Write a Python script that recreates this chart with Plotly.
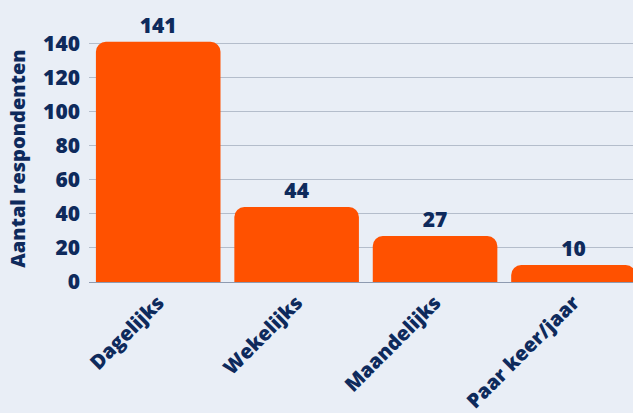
import plotly.graph_objects as go

categories = ["Dagelijks", "Wekelijks", "Maandelijks", "Paar keer/jaar"]
values = [141, 44, 27, 10]
y_ticks = [0, 20, 40, 60, 80, 100, 120, 140]

navy = "#0E2A5C"
bg = "#E9EEF6"
orange = "#FF5100"
font_family = "Open Sans, Lato, sans-serif"

fig = go.Figure(
    go.Bar(
        x=categories,
        y=values,
        marker=dict(color=orange, line=dict(width=0)),
        width=0.9,
        text=[str(v) for v in values],
        textposition="outside",
        cliponaxis=False,
        textfont=dict(family=font_family, size=21, color=navy, weight=800),
        hoverinfo="skip",
    )
)

fig.update_layout(
    width=633,
    height=413,
    paper_bgcolor=bg,
    plot_bgcolor=bg,
    margin=dict(l=89, r=0, t=35, b=131),
    barcornerradius=10,
    showlegend=False,
    font=dict(family=font_family, color=navy, weight=800),
)

fig.update_xaxes(
    range=[-0.5, 3.43],
    tickangle=-45,
    tickfont=dict(family=font_family, size=20, color=navy, weight=800),
    showgrid=False,
    showline=True,
    linecolor="#8E9AB0",
    linewidth=1,
    ticks="",
)

fig.update_yaxes(
    range=[0, 145],
    tickvals=y_ticks,
    tickfont=dict(family=font_family, size=21, color=navy, weight=800),
    showgrid=True,
    gridcolor="#B4BDCB",
    gridwidth=1,
    zeroline=False,
    ticks="",
    ticklabelstandoff=8,
    title=dict(
        text="Aantal respondenten",
        font=dict(family=font_family, size=20, color=navy, weight=800),
        standoff=12,
    ),
)

fig.write_html(
    "out.html",
    config={"displayModeBar": False},
    post_script="document.body.style.margin='0';document.body.style.overflow='hidden';",
)
